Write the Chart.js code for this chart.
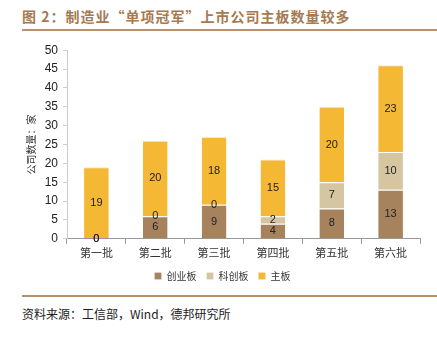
<!DOCTYPE html>
<html>
<head>
<meta charset="utf-8">
<script src="https://cdn.jsdelivr.net/npm/chart.js@4.4.0/dist/chart.umd.min.js"></script>
<style>
  html, body { margin: 0; padding: 0; background: #fff; }
  body { width: 437px; height: 339px; position: relative; overflow: hidden;
         font-family: "Noto Sans CJK SC", "Liberation Sans", sans-serif; }
  #title { position: absolute; left: 22px; top: 6px; font-size: 14px; font-weight: bold;
           color: #a57a52; letter-spacing: 1px; white-space: nowrap; }
  .rule { position: absolute; left: 22px; right: 0; height: 2px; background: #b8916c; }
  #source { position: absolute; left: 22px; top: 305px; font-size: 12px; color: #222; white-space: nowrap; }
  #wrap { position: absolute; left: 0; top: 38px; width: 437px; height: 257px; }
</style>
</head>
<body>
<div id="title">图 2：制造业“单项冠军”上市公司主板数量较多</div>
<div class="rule" style="top:29px"></div>
<div id="wrap"><canvas id="chart"></canvas></div>
<div class="rule" style="top:295px"></div>
<div id="source">资料来源：工信部，Wind，德邦研究所</div>
<script>
const categories = ['第一批', '第二批', '第三批', '第四批', '第五批', '第六批'];
const chuangye = [0, 6, 9, 4, 8, 13];
const kechuang = [0, 0, 0, 2, 7, 10];
const zhuban = [19, 20, 18, 15, 20, 23];
const yTicks = [0, 5, 10, 15, 20, 25, 30, 35, 40, 45, 50];

// 在每段柱子中间写数值
const valueLabels = {
  id: 'valueLabels',
  afterDatasetsDraw(chart) {
    const ctx = chart.ctx;
    ctx.save();
    ctx.font = '11px "Liberation Sans", Arial, sans-serif';
    ctx.fillStyle = '#222';
    ctx.textAlign = 'center';
    ctx.textBaseline = 'middle';
    chart.data.datasets.forEach((ds, i) => {
      chart.getDatasetMeta(i).data.forEach((bar, j) => {
        const p = bar.getCenterPoint();
        ctx.fillText(String(ds.data[j]), p.x, p.y);
      });
    });
    ctx.restore();
  }
};

new Chart(document.getElementById('chart'), {
  type: 'bar',
  data: {
    labels: categories,
    datasets: [
      { label: '创业板', data: chuangye, backgroundColor: '#a6835c', borderColor: '#fff', borderWidth: { top: 1 }, borderSkipped: 'bottom' },
      { label: '科创板', data: kechuang, backgroundColor: '#d6c5a1', borderColor: '#fff', borderWidth: { top: 1 }, borderSkipped: 'bottom' },
      { label: '主板', data: zhuban, backgroundColor: '#f4b834', borderColor: '#fbe9c4', borderWidth: { top: 1 }, borderSkipped: 'bottom' }
    ]
  },
  options: {
    responsive: true,
    maintainAspectRatio: false,
    animation: false,
    categoryPercentage: 1,
    barPercentage: 0.42,
    layout: { padding: { left: 25, right: 17, top: 4, bottom: 4 } },
    plugins: {
      legend: {
        position: 'bottom',
        labels: {
          boxWidth: 7, boxHeight: 7, padding: 10,
          color: '#333',
          font: { size: 10, family: '"Noto Sans CJK SC", sans-serif' }
        }
      },
      tooltip: { enabled: false }
    },
    scales: {
      x: {
        stacked: true,
        grid: { drawOnChartArea: false, color: '#999', tickLength: 5, offset: true },
        border: { color: '#999' },
        ticks: { color: '#333', padding: 2, font: { size: 11, family: '"Noto Sans CJK SC", sans-serif' } }
      },
      y: {
        stacked: true,
        min: 0, max: 50,
        afterBuildTicks: (axis) => { axis.ticks = yTicks.map(v => ({ value: v })); },
        afterFit: (axis) => { axis.width = 42; },
        grid: { drawOnChartArea: false, color: '#ccc', tickLength: 4 },
        border: { color: '#ccc' },
        ticks: { color: '#222', padding: 5, font: { size: 12, family: '"Liberation Sans", Arial, sans-serif' } },
        title: { display: true, text: '公司数量：家', color: '#333', padding: 0,
                 font: { size: 10, family: '"Noto Sans CJK SC", sans-serif' } }
      }
    }
  },
  plugins: [valueLabels]
});
</script>
</body>
</html>
